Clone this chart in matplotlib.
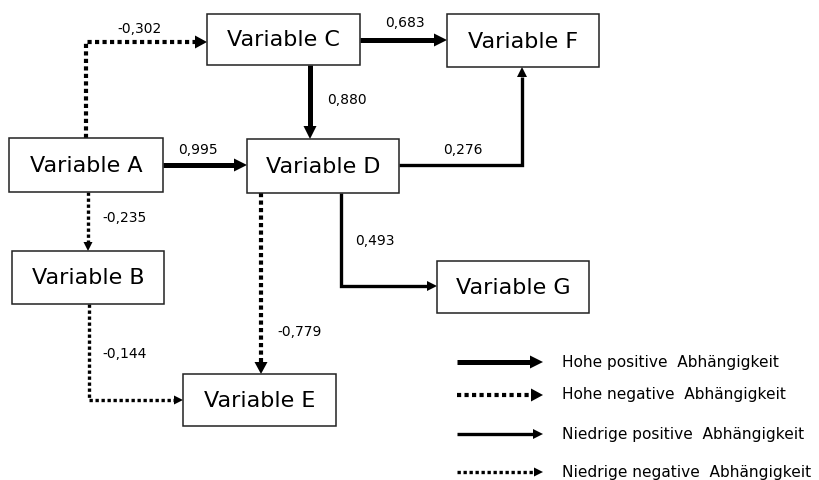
import matplotlib
matplotlib.use('Agg')
import matplotlib.pyplot as plt
from matplotlib.patches import Rectangle, Polygon

# data
nodes = ['Variable A', 'Variable B', 'Variable C', 'Variable D',
         'Variable E', 'Variable F', 'Variable G']
src = ['Variable A', 'Variable C', 'Variable C', 'Variable A',
       'Variable D', 'Variable D', 'Variable A', 'Variable D', 'Variable B']
dst = ['Variable C', 'Variable F', 'Variable D', 'Variable D',
       'Variable F', 'Variable G', 'Variable B', 'Variable E', 'Variable E']
weights = [-0.302, 0.683, 0.880, 0.995, 0.276, 0.493, -0.235, -0.779, -0.144]
kinds = ['hn', 'hp', 'hp', 'hp', 'lp', 'lp', 'ln', 'hn', 'ln']
legend_labels = ['Hohe positive  Abhängigkeit', 'Hohe negative  Abhängigkeit',
                 'Niedrige positive  Abhängigkeit', 'Niedrige negative  Abhängigkeit']
legend_kinds = ['hp', 'hn', 'lp', 'ln']

# layout in pixel coords (x0, y0, x1, y1), y going down
boxes = {
    'Variable A': (9, 138, 163, 192),
    'Variable B': (12, 251, 164, 304),
    'Variable C': (207, 14, 360, 65),
    'Variable D': (247, 139, 399, 193),
    'Variable E': (183, 374, 336, 426),
    'Variable F': (447, 14, 599, 67),
    'Variable G': (437, 261, 589, 313),
}
# edge routes (polyline points) and label positions
routes = [
    [(86, 138), (86, 42), (207, 42)],
    [(360, 40), (447, 40)],
    [(310, 65), (310, 139)],
    [(163, 165), (247, 165)],
    [(399, 165), (522, 165), (522, 67)],
    [(341, 193), (341, 286), (437, 286)],
    [(88, 192), (88, 251)],
    [(261, 193), (261, 374)],
    [(89, 304), (89, 400), (183, 400)],
]
label_pos = [(140, 29), (405, 23), (347, 100), (198, 150), (463, 150),
             (375, 241), (125, 218), (300, 332), (125, 354)]

styles = {
    'hp': dict(lw=3.6, dotted=False, hl=13, hw=13),
    'hn': dict(lw=3.0, dotted=True, hl=12, hw=13),
    'lp': dict(lw=2.4, dotted=False, hl=10, hw=10),
    'ln': dict(lw=2.4, dotted=True, hl=9, hw=9),
}


def draw_arrow(ax, pts, kind):
    st = styles[kind]
    (xa, ya), (xb, yb) = pts[-2], pts[-1]
    dx, dy = xb - xa, yb - ya
    n = (dx ** 2 + dy ** 2) ** 0.5
    ux, uy = dx / n, dy / n
    bx, by = xb - ux * st['hl'], yb - uy * st['hl']
    line = pts[:-1] + [(bx, by)]
    xs = [p[0] for p in line]
    ys = [p[1] for p in line]
    if st['dotted']:
        ax.plot(xs, ys, color='black', lw=st['lw'], linestyle=(0, (1, 0.8)),
                dash_capstyle='butt', solid_joinstyle='miter')
    else:
        ax.plot(xs, ys, color='black', lw=st['lw'], solid_capstyle='butt',
                solid_joinstyle='miter')
    px, py = -uy, ux
    hw = st['hw'] / 2
    ax.add_patch(Polygon([(xb, yb), (bx + px * hw, by + py * hw),
                          (bx - px * hw, by - py * hw)], closed=True,
                         color='black', lw=0))


fig = plt.figure(figsize=(8.2, 4.8), dpi=100)
ax = fig.add_axes([0, 0, 1, 1])
ax.set_xlim(0, 820)
ax.set_ylim(480, 0)
ax.axis('off')

for name in nodes:
    x0, y0, x1, y1 = boxes[name]
    ax.add_patch(Rectangle((x0, y0), x1 - x0, y1 - y0, facecolor='white',
                           edgecolor='#222222', lw=1.1, zorder=3))
    ax.text((x0 + x1) / 2, (y0 + y1) / 2 + 1, name, ha='center', va='center',
            fontsize=16, zorder=4)

for i in range(len(src)):
    draw_arrow(ax, routes[i], kinds[i])
    lab = f'{weights[i]:.3f}'.replace('.', ',')
    ax.text(label_pos[i][0], label_pos[i][1], lab, ha='center', va='center',
            fontsize=10)

leg_y = [362, 395, 434, 472]
for k, lab, y in zip(legend_kinds, legend_labels, leg_y):
    draw_arrow(ax, [(457, y), (543, y)], k)
    ax.text(562, y, lab, ha='left', va='center', fontsize=11.1)

plt.savefig('out.png', dpi=100)
